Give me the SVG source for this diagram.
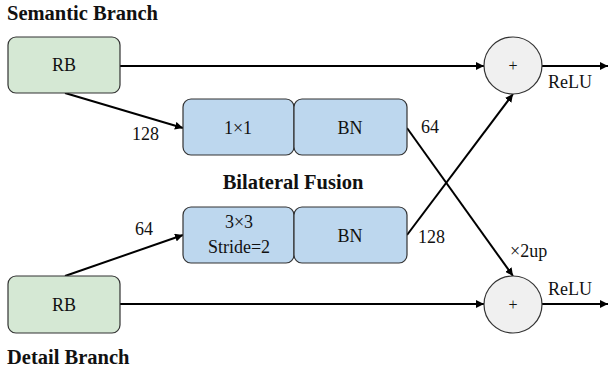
<svg xmlns="http://www.w3.org/2000/svg" width="608" height="368" viewBox="0 0 608 368">
  <defs>
    <marker id="arrow" viewBox="0 0 10 10" refX="10" refY="5" markerWidth="8" markerHeight="8" markerUnits="userSpaceOnUse" orient="auto">
      <path d="M0,0 L10,5 L0,10 z" fill="#000"/>
    </marker>
    <style>
      .rb { fill: #d5e8d4; stroke: #333; stroke-width: 1.2; }
      .blk { fill: #bdd7ee; stroke: #333; stroke-width: 1.2; }
      .add { fill: #f0f0f0; stroke: #333; stroke-width: 1.2; }
      text { font-family: 'Liberation Serif', 'Times New Roman', serif; }
      .t { font-size: 18px; fill: #111; }
      .c { text-anchor: middle; }
      .h { font-size: 20.5px; font-weight: bold; fill: #111; }
      .edge { stroke: #000; stroke-width: 2; fill: none; marker-end: url(#arrow); }
    </style>
  </defs>
  <rect width="608" height="368" fill="#fff"/>

  <!-- section titles -->
  <text class="h" x="7" y="20">Semantic Branch</text>
  <text class="h c" x="293" y="189">Bilateral Fusion</text>
  <text class="h" x="7" y="364">Detail Branch</text>

  <!-- connectors -->
  <g id="connectors">
    <line class="edge" x1="120" y1="66" x2="484" y2="66"/>
    <line class="edge" x1="542" y1="66" x2="608" y2="66"/>
    <line class="edge" x1="120" y1="304" x2="484" y2="304"/>
    <line class="edge" x1="542" y1="304" x2="608" y2="304"/>
    <line class="edge" x1="65" y1="93" x2="183" y2="128"/>
    <line class="edge" x1="65" y1="276" x2="183" y2="235"/>
    <line class="edge" x1="407" y1="128" x2="513" y2="276"/>
    <line class="edge" x1="407" y1="235" x2="513" y2="94"/>
  </g>

  <!-- connector labels -->
  <g id="labels">
    <text class="t" x="132" y="140">128</text>
    <text class="t" x="421" y="133">64</text>
    <text class="t" x="135" y="235">64</text>
    <text class="t" x="418" y="243">128</text>
    <text class="t" x="510" y="257">×2up</text>
    <text class="t" x="548" y="88">ReLU</text>
    <text class="t" x="548" y="295">ReLU</text>
  </g>

  <g id="rb-semantic">
    <rect class="rb" x="8" y="37" width="112" height="56" rx="8"/>
    <text class="t c" x="64" y="71">RB</text>
  </g>
  <g id="conv1x1">
    <rect class="blk" x="183" y="99" width="111" height="56" rx="8"/>
    <text class="t c" x="238" y="134">1×1</text>
  </g>
  <g id="bn-top">
    <rect class="blk" x="294" y="99" width="113" height="56" rx="8"/>
    <text class="t c" x="350" y="134">BN</text>
  </g>
  <g id="conv3x3">
    <rect class="blk" x="183" y="207" width="111" height="56" rx="8"/>
    <text class="t c" x="239" y="228">3×3</text>
    <text class="t c" x="239" y="253">Stride=2</text>
  </g>
  <g id="bn-bottom">
    <rect class="blk" x="294" y="207" width="113" height="56" rx="8"/>
    <text class="t c" x="350" y="242">BN</text>
  </g>
  <g id="rb-detail">
    <rect class="rb" x="8" y="276" width="112" height="57" rx="8"/>
    <text class="t c" x="64" y="311">RB</text>
  </g>
  <g id="add-semantic">
    <ellipse class="add" cx="513" cy="65.5" rx="29" ry="28.5"/>
    <text class="t c" x="513" y="71" style="font-size:16px">+</text>
  </g>
  <g id="add-detail">
    <ellipse class="add" cx="513" cy="304.5" rx="29" ry="28.5"/>
    <text class="t c" x="513" y="310" style="font-size:16px">+</text>
  </g>
</svg>
